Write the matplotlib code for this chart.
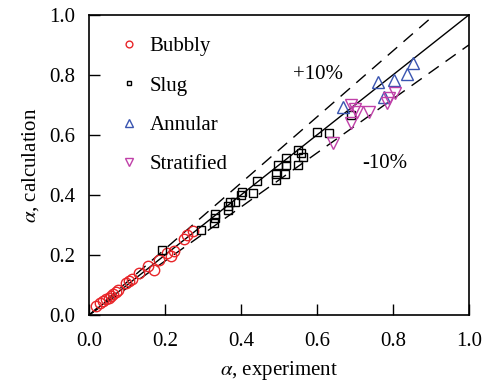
import matplotlib
matplotlib.use('Agg')
import matplotlib.pyplot as plt
import numpy as np

plt.rcParams['font.family'] = ['Liberation Serif', 'DejaVu Serif']
plt.rcParams['mathtext.fontset'] = 'stix'

# data (alpha experiment, alpha calculation)
bubbly_x = [0.018, 0.029, 0.038, 0.046, 0.052, 0.058, 0.064, 0.070, 0.076, 0.097, 0.106,
            0.113, 0.131, 0.155, 0.172, 0.185, 0.205, 0.215, 0.224, 0.250, 0.258, 0.274]
bubbly_y = [0.030, 0.039, 0.046, 0.052, 0.058, 0.064, 0.070, 0.076, 0.082, 0.108, 0.112,
            0.120, 0.140, 0.163, 0.151, 0.183, 0.207, 0.196, 0.212, 0.255, 0.267, 0.279]

slug_x = [0.191, 0.294, 0.332, 0.332, 0.328, 0.367, 0.370, 0.366, 0.384, 0.400, 0.403, 0.431,
          0.441, 0.493, 0.492, 0.497, 0.518, 0.518, 0.515, 0.549, 0.558, 0.563, 0.550, 0.601,
          0.631, 0.689]
slug_y = [0.217, 0.284, 0.337, 0.322, 0.308, 0.362, 0.376, 0.350, 0.376, 0.400, 0.411, 0.406,
          0.445, 0.469, 0.450, 0.500, 0.500, 0.522, 0.470, 0.550, 0.541, 0.525, 0.500, 0.611,
          0.606, 0.665]

annular_x = [0.669, 0.761, 0.803, 0.776, 0.836, 0.854]
annular_y = [0.692, 0.778, 0.783, 0.728, 0.803, 0.839]

strat_x = [0.690, 0.706, 0.690, 0.738, 0.643, 0.785, 0.790, 0.805, 0.700]
strat_y = [0.699, 0.676, 0.641, 0.677, 0.573, 0.706, 0.724, 0.739, 0.685]

fig = plt.figure(figsize=(4.89, 3.81), dpi=100)
ax = fig.add_axes([0.182, 0.173, 0.777, 0.788])

# reference lines: perfect agreement and +/-10 %
xl = np.array([0.0, 1.0])
ax.plot(xl, xl, color='black', lw=1.0, zorder=1)
ax.plot(xl, 1.1 * xl, color='black', lw=1.0, dashes=(9, 6), zorder=1)
ax.plot(xl, 0.9 * xl, color='black', lw=1.0, dashes=(9, 6), zorder=1)

ax.plot(bubbly_x, bubbly_y, 'o', mfc='none', mec='#e8262a', ms=7.5, mew=1.0, label='Bubbly')
ax.plot(slug_x, slug_y, 's', mfc='none', mec='black', ms=5.5, mew=1.0, label='Slug')
ax.plot(annular_x, annular_y, '^', mfc='none', mec='#3a55b0', ms=8, mew=1.0, label='Annular')
ax.plot(strat_x, strat_y, 'v', mfc='none', mec='#c040a8', ms=8, mew=1.0, label='Stratified')

ax.text(0.536, 0.80, '+10%', fontsize=15, ha='left', va='center')
ax.text(0.72, 0.505, '-10%', fontsize=15, ha='left', va='center')

leg = ax.legend(loc='upper left', bbox_to_anchor=(0.05, 0.955), frameon=False, fontsize=15,
                markerscale=0.65, handlelength=1.2, handletextpad=0.4, labelspacing=0.95,
                borderaxespad=0)

ax.set_xlim(0, 1)
ax.set_ylim(0, 1)
ax.set_xticks(np.arange(0, 1.01, 0.2))
ax.set_yticks(np.arange(0, 1.01, 0.2))
ax.xaxis.set_major_formatter(matplotlib.ticker.FormatStrFormatter('%.1f'))
ax.yaxis.set_major_formatter(matplotlib.ticker.FormatStrFormatter('%.1f'))
ax.tick_params(direction='in', length=8, width=1, labelsize=15)
ax.tick_params(axis='x', pad=12)
ax.tick_params(axis='y', pad=10)
ax.set_xlabel(r'$\alpha$, experiment', fontsize=15, labelpad=6)
ax.set_ylabel(r'$\alpha$, calculation', fontsize=15, labelpad=6)
for s in ax.spines.values():
    s.set_linewidth(1.2)

fig.savefig('out.png', dpi=100)
